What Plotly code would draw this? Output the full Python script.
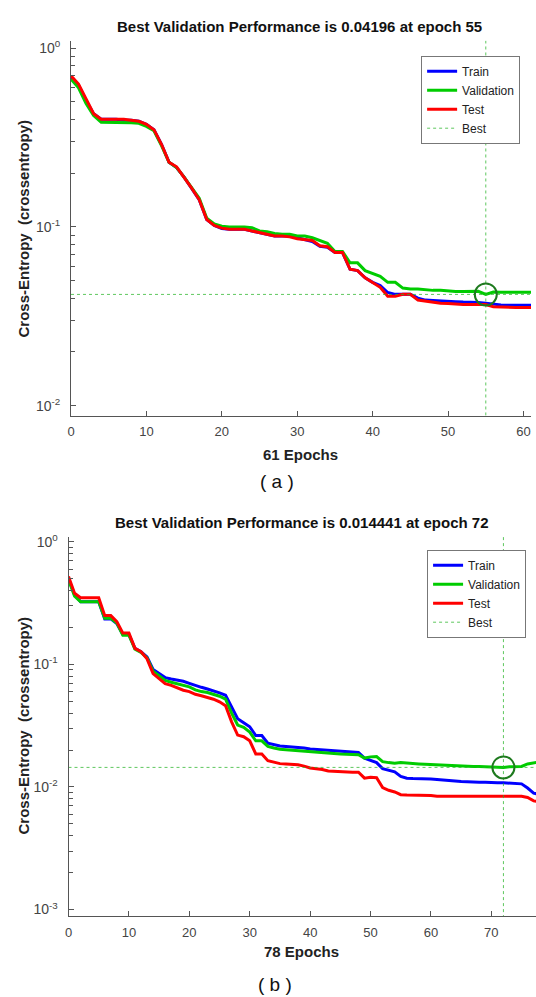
import plotly.graph_objects as go

# ---------------- data: panel (a) ----------------
epochs_a = list(range(0, 62))
train_a = [0.69, 0.62, 0.51, 0.43, 0.40, 0.40, 0.40, 0.395, 0.395, 0.39,
           0.375, 0.35, 0.29, 0.23, 0.215, 0.19, 0.165, 0.142, 0.11, 0.102,
           0.098, 0.097, 0.097, 0.097, 0.095, 0.093, 0.091, 0.089, 0.089, 0.089,
           0.087, 0.085, 0.083, 0.078, 0.077, 0.072, 0.072, 0.058, 0.057, 0.052,
           0.049, 0.047, 0.043, 0.042, 0.042, 0.042, 0.040, 0.039, 0.0388, 0.0385,
           0.0383, 0.0382, 0.038, 0.038, 0.0378, 0.0375, 0.037, 0.0366, 0.0365, 0.0365,
           0.0365, 0.0365]
val_a = [0.67, 0.60, 0.49, 0.42, 0.385, 0.385, 0.385, 0.385, 0.383, 0.38,
         0.365, 0.345, 0.285, 0.23, 0.215, 0.19, 0.166, 0.145, 0.112, 0.104,
         0.101, 0.100, 0.100, 0.100, 0.099, 0.095, 0.094, 0.092, 0.091, 0.091,
         0.089, 0.089, 0.087, 0.084, 0.081, 0.073, 0.073, 0.063, 0.063, 0.057,
         0.055, 0.053, 0.049, 0.049, 0.0455, 0.045, 0.045, 0.0445, 0.0442, 0.0442,
         0.0438, 0.0436, 0.0436, 0.0435, 0.0437, 0.04196, 0.0433, 0.0432, 0.0432, 0.0431,
         0.0431, 0.0431]
test_a = [0.70, 0.63, 0.52, 0.43, 0.40, 0.40, 0.40, 0.40, 0.395, 0.39,
          0.375, 0.35, 0.29, 0.23, 0.217, 0.19, 0.165, 0.142, 0.11, 0.102,
          0.0985, 0.097, 0.097, 0.097, 0.095, 0.093, 0.091, 0.089, 0.089, 0.088,
          0.086, 0.085, 0.084, 0.0785, 0.0775, 0.072, 0.072, 0.058, 0.057, 0.052,
          0.049, 0.046, 0.041, 0.041, 0.042, 0.042, 0.039, 0.0385, 0.0378, 0.0375,
          0.0373, 0.037, 0.0368, 0.0368, 0.0368, 0.0368, 0.0358, 0.0356, 0.0355, 0.0355,
          0.0355, 0.0355]
best_epoch_a = 55
best_val_a = 0.04196
n_epochs_a = 61

# ---------------- data: panel (b) ----------------
epochs_b = list(range(0, 79))
train_b = [0.50, 0.37, 0.325, 0.325, 0.325, 0.325, 0.235, 0.235, 0.215, 0.175,
           0.175, 0.135, 0.127, 0.115, 0.091, 0.084, 0.078, 0.076, 0.0745, 0.0728,
           0.070, 0.067, 0.065, 0.063, 0.061, 0.0585, 0.056, 0.045, 0.036, 0.0334,
           0.031, 0.0263, 0.0263, 0.0228, 0.0222, 0.0216, 0.0214, 0.0212, 0.0211, 0.0208,
           0.0204, 0.0202, 0.0201, 0.0199, 0.0197, 0.0195, 0.0194, 0.0192, 0.0191, 0.0172,
           0.0165, 0.0158, 0.0141, 0.0137, 0.0133, 0.0122, 0.0118, 0.0117, 0.0117, 0.0116,
           0.0116, 0.0115, 0.01145, 0.0114, 0.0112, 0.0111, 0.011, 0.011, 0.0109, 0.0109,
           0.0108, 0.0108, 0.0108, 0.0107, 0.0106, 0.0106, 0.0098, 0.0089, 0.0087]
val_b = [0.49, 0.36, 0.325, 0.325, 0.325, 0.325, 0.238, 0.238, 0.217, 0.173,
         0.173, 0.133, 0.125, 0.113, 0.088, 0.081, 0.074, 0.0715, 0.0695, 0.0676,
         0.0655, 0.062, 0.060, 0.059, 0.057, 0.055, 0.052, 0.040, 0.032, 0.0306,
         0.028, 0.0238, 0.0238, 0.0214, 0.0208, 0.0203, 0.0201, 0.0199, 0.0198, 0.0196,
         0.0193, 0.0191, 0.019, 0.0188, 0.0187, 0.0186, 0.0185, 0.0184, 0.0183, 0.0172,
         0.0176, 0.0177, 0.0161, 0.0158, 0.0156, 0.0158, 0.0156, 0.0155, 0.0154, 0.0153,
         0.0152, 0.0151, 0.015, 0.015, 0.0149, 0.0148, 0.0147, 0.0147, 0.0147, 0.0146,
         0.0146, 0.0145, 0.014441, 0.0146, 0.0147, 0.0147, 0.0154, 0.0158, 0.016]
test_b = [0.52, 0.38, 0.35, 0.35, 0.35, 0.35, 0.25, 0.25, 0.223, 0.18,
          0.18, 0.135, 0.127, 0.111, 0.084, 0.076, 0.0697, 0.0675, 0.0645, 0.0615,
          0.060, 0.057, 0.0555, 0.054, 0.052, 0.0495, 0.046, 0.034, 0.0265, 0.0257,
          0.0238, 0.0186, 0.0186, 0.0164, 0.016, 0.0155, 0.0154, 0.0153, 0.0152, 0.0148,
          0.0143, 0.0141, 0.0139, 0.0135, 0.0134, 0.0134, 0.0133, 0.0132, 0.0132, 0.0118,
          0.012, 0.0119, 0.0099, 0.0094, 0.0091, 0.00865, 0.0086, 0.0086, 0.00855, 0.0085,
          0.0085, 0.0084, 0.0084, 0.0084, 0.0085, 0.0085, 0.0085, 0.0084, 0.0084, 0.0084,
          0.0084, 0.0084, 0.0084, 0.0084, 0.0084, 0.0084, 0.0082, 0.0077, 0.0076]
best_epoch_b = 72
best_val_b = 0.014441
n_epochs_b = 78

y_tickvals_a = [1, 0.1, 0.01]
y_ticktext_a = ["10<sup>0</sup>", "10<sup>-1</sup>", "10<sup>-2</sup>"]
y_tickvals_b = [1, 0.1, 0.01, 0.001]
y_ticktext_b = ["10<sup>0</sup>", "10<sup>-1</sup>", "10<sup>-2</sup>", "10<sup>-3</sup>"]
minor_mult = [2, 3, 4, 5, 6, 7, 8, 9]
minor_a = [m * d for d in [0.01, 0.1] for m in minor_mult]
minor_b = [m * d for d in [0.001, 0.01, 0.1] for m in minor_mult]

W, H = 536, 997
FONT = "Liberation Sans, Arial, sans-serif"
BLUE, GREEN, RED = "#0000ff", "#00cc00", "#ff0000"
BEST_COL = "rgba(40,180,40,0.75)"
CIRCLE_COL = "#1e7a1e"
AXIS_COL = "#555555"

fig = go.Figure()


def add_panel(xa, ya, ep, tr, va, te, be, bv, xmax, legend_name):
    for name, ys, col in [("Train", tr, BLUE), ("Validation", va, GREEN), ("Test", te, RED)]:
        fig.add_trace(go.Scatter(x=ep, y=ys, mode="lines", name=name,
                                 line=dict(color=col, width=3),
                                 xaxis=xa, yaxis=ya, showlegend=True, legend=legend_name))
    fig.add_trace(go.Scatter(x=[0, xmax], y=[bv, bv], mode="lines", name="Best",
                             line=dict(color=BEST_COL, width=1, dash="dot"),
                             xaxis=xa, yaxis=ya, showlegend=True, legend=legend_name))
    fig.add_trace(go.Scatter(x=[be, be], y=[1e-4, 2], mode="lines", name="Best",
                             line=dict(color=BEST_COL, width=1, dash="dot"),
                             xaxis=xa, yaxis=ya, showlegend=False))
    fig.add_trace(go.Scatter(x=[be], y=[bv], mode="markers", showlegend=False,
                             marker=dict(symbol="circle-open", size=22,
                                         color=CIRCLE_COL, line=dict(width=2, color=CIRCLE_COL)),
                             xaxis=xa, yaxis=ya))


add_panel("x", "y", epochs_a, train_a, val_a, test_a, best_epoch_a, best_val_a, n_epochs_a, "legend")
add_panel("x2", "y2", epochs_b, train_b, val_b, test_b, best_epoch_b, best_val_b, n_epochs_b, "legend2")

axis_common = dict(showgrid=False, zeroline=False, showline=True, linecolor=AXIS_COL,
                   linewidth=1, ticks="inside", tickcolor=AXIS_COL, ticklen=5,
                   mirror=False)
xfont = dict(family=FONT, size=13, color="#444444")
yfont = dict(family=FONT, size=14, color="#444444")

ax_a = [67.5 / W, 531 / W]
ay_a = [1 - 413.3 / H, 1 - 36 / H]
ax_b = [65 / W, 1.0]
ay_b = [1 - 916.8 / H, 1 - 535 / H]
yr_a = [-2.056, 0.041]
yr_b = [-3.055, 0.041]

fig.update_layout(
    width=W, height=H, autosize=False,
    margin=dict(l=0, r=0, t=0, b=0),
    paper_bgcolor="white", plot_bgcolor="white",
    xaxis=dict(domain=ax_a, range=[0, n_epochs_a], tickvals=[0, 10, 20, 30, 40, 50, 60],
               anchor="y", tickfont=xfont, ticklabelstandoff=4, **axis_common),
    yaxis=dict(domain=ay_a, type="log", range=yr_a, tickvals=y_tickvals_a,
               ticktext=y_ticktext_a, anchor="x", tickfont=yfont, ticklabelstandoff=7,
               minor=dict(tickmode="array", tickvals=minor_a, ticks="inside",
                          ticklen=4, tickcolor=AXIS_COL, tickwidth=1, showgrid=False),
               **axis_common),
    xaxis2=dict(domain=ax_b, range=[0, (536 - 65) / 6.086], tickvals=[0, 10, 20, 30, 40, 50, 60, 70],
                anchor="y2", tickfont=xfont, ticklabelstandoff=4, **axis_common),
    yaxis2=dict(domain=ay_b, type="log", range=yr_b, tickvals=y_tickvals_b,
                ticktext=y_ticktext_b, anchor="x2", tickfont=yfont, ticklabelstandoff=7,
                minor=dict(tickmode="array", tickvals=minor_b, ticks="inside",
                           ticklen=4, tickcolor=AXIS_COL, tickwidth=1, showgrid=False),
                **axis_common),
    legend=dict(x=520 / W, xanchor="right", y=1 - 51 / H, yanchor="top",
                bordercolor="#777777", borderwidth=1, bgcolor="white",
                font=dict(family=FONT, size=12, color="#222222"),
                tracegroupgap=0, itemwidth=30),
    legend2=dict(x=526 / W, xanchor="right", y=1 - 548 / H, yanchor="top",
                 bordercolor="#777777", borderwidth=1, bgcolor="white",
                 font=dict(family=FONT, size=12, color="#222222"),
                 tracegroupgap=0, itemwidth=30),
    showlegend=True,
)

ann = []


def txt(x, y, s, size, bold=False, angle=0, color="#111111"):
    ann.append(dict(x=x / W, y=1 - y / H, xref="paper", yref="paper",
                    text=("<b>%s</b>" % s) if bold else s,
                    showarrow=False, xanchor="center", yanchor="middle", textangle=angle,
                    font=dict(family=FONT, size=size, color=color)))


txt(298, 22, "Best Validation Performance is 0.04196 at epoch 55", 15, bold=True)
txt(299, 452, "61 Epochs", 15, bold=True, color="#222222")
txt(275, 479, "( a )", 19, color="#111111")
txt(20, 225, "Cross-Entropy  (crossentropy)", 15, bold=True, angle=-90, color="#222222")

txt(300, 521, "Best Validation Performance is 0.014441 at epoch 72", 15, bold=True)
txt(300, 952, "78 Epochs", 15, bold=True, color="#222222")
txt(273, 985, "( b )", 19, color="#111111")
txt(20, 725, "Cross-Entropy  (crossentropy)", 15, bold=True, angle=-90, color="#222222")

fig.update_layout(annotations=ann)

fig.write_html("out.html", config={"displayModeBar": False},
               post_script="document.body.style.margin='0px';document.body.style.overflow='hidden';")
